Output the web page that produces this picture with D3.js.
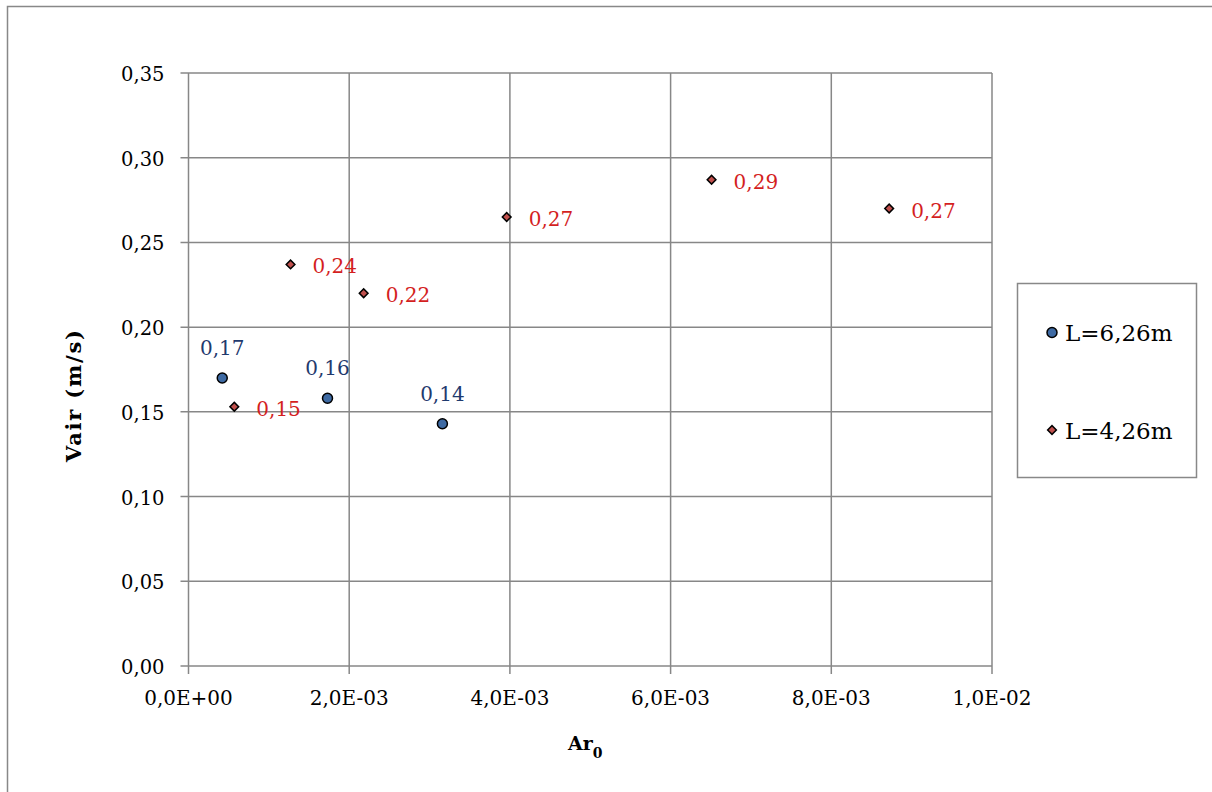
<!DOCTYPE html>
<html><head><meta charset="utf-8">
<script src="https://cdn.jsdelivr.net/npm/d3@7"></script>
<style>body{margin:0;background:#fff}svg{display:block}</style>
</head><body><svg id="c" width="1212" height="792"></svg>
<script>
const xTicks = [0, 0.002, 0.004, 0.006, 0.008, 0.010];
const xTickLabels = ["0,0E+00","2,0E-03","4,0E-03","6,0E-03","8,0E-03","1,0E-02"];
const yTicks = [0, 0.05, 0.10, 0.15, 0.20, 0.25, 0.30, 0.35];
const yTickLabels = ["0,00","0,05","0,10","0,15","0,20","0,25","0,30","0,35"];
const seriesNames = ["L=6,26m","L=4,26m"];
const s1x = [0.00042, 0.00173, 0.00316];
const s1y = [0.170, 0.158, 0.143];
const s1labels = ["0,17","0,16","0,14"];
const s2x = [0.00057, 0.00127, 0.00218, 0.00396, 0.00651, 0.00872];
const s2y = [0.153, 0.237, 0.220, 0.265, 0.287, 0.270];
const s2labels = ["0,15","0,24","0,22","0,27","0,29","0,27"];

const font = "'DejaVu Serif','Liberation Serif',serif";
const svg = d3.select("#c");
svg.append("rect").attr("x",7.5).attr("y",6.5).attr("width",1220).attr("height",800)
  .attr("fill","#fff").attr("stroke","#888").attr("stroke-width",1.5);

const x = d3.scaleLinear().domain([0,0.01]).range([188.5,992]);
const y = d3.scaleLinear().domain([0,0.35]).range([666,73]);
const grid = "#878787";

const g = svg.append("g");
g.selectAll(".vg").data(xTicks).join("line")
  .attr("x1",d=>x(d)).attr("x2",d=>x(d)).attr("y1",y(0.35)).attr("y2",y(0)+8)
  .attr("stroke",grid).attr("stroke-width",1.5);
g.selectAll(".hg").data(yTicks).join("line")
  .attr("x1",x(0)-8).attr("x2",x(0.01)).attr("y1",d=>y(d)).attr("y2",d=>y(d))
  .attr("stroke",grid).attr("stroke-width",1.5);

g.selectAll(".xl").data(xTicks).join("text")
  .attr("x",d=>x(d)).attr("y",y(0)+39).attr("text-anchor","middle")
  .attr("font-family",font).attr("font-size",20).attr("fill","#000")
  .text((d,i)=>xTickLabels[i]);
g.selectAll(".yl").data(yTicks).join("text")
  .attr("x",x(0)-24).attr("y",d=>y(d)+8).attr("text-anchor","end")
  .attr("font-family",font).attr("font-size",19.5).attr("fill","#000")
  .text((d,i)=>yTickLabels[i]);

svg.append("text").attr("transform","translate(81,396) rotate(-90)")
  .attr("text-anchor","middle").attr("font-family",font).attr("font-size",21)
  .attr("font-weight","bold").attr("textLength",132).attr("lengthAdjust","spacing")
  .text("Vair (m/s)");
const xt = svg.append("text").attr("x",568).attr("y",750).attr("text-anchor","start")
  .attr("font-family",font).attr("font-size",19).attr("font-weight","bold");
xt.append("tspan").text("Ar");
xt.append("tspan").attr("font-size",14).attr("dy",8).text("0");

const blue="#3e6aa3", red="#c0504d", blueT="#1f3a6e", redT="#d41f1f";
const d1 = s1x.map((v,i)=>({x:v,y:s1y[i],l:s1labels[i]}));
const d2 = s2x.map((v,i)=>({x:v,y:s2y[i],l:s2labels[i]}));

g.selectAll(".p1").data(d1).join("circle")
  .attr("cx",d=>x(d.x)).attr("cy",d=>y(d.y)).attr("r",5)
  .attr("fill",blue).attr("stroke","#000").attr("stroke-width",1.5);
g.selectAll(".t1").data(d1).join("text")
  .attr("x",d=>x(d.x)).attr("y",d=>y(d.y)-23).attr("text-anchor","middle")
  .attr("font-family",font).attr("font-size",20).attr("fill",blueT).text(d=>d.l);

const diamond = d3.symbol().type(d3.symbolSquare).size(38);
g.selectAll(".p2").data(d2).join("path")
  .attr("d",diamond)
  .attr("transform",d=>`translate(${x(d.x)},${y(d.y)}) rotate(45)`)
  .attr("fill",red).attr("stroke","#000").attr("stroke-width",1.5);
g.selectAll(".t2").data(d2).join("text")
  .attr("x",d=>x(d.x)+22).attr("y",d=>y(d.y)+9).attr("text-anchor","start")
  .attr("font-family",font).attr("font-size",20).attr("fill",redT).text(d=>d.l);

// legend
const lg = svg.append("g");
lg.append("rect").attr("x",1017.5).attr("y",283.5).attr("width",179).attr("height",194)
  .attr("fill","#fff").attr("stroke","#888").attr("stroke-width",1.5);
lg.append("circle").attr("cx",1052).attr("cy",332.5).attr("r",5)
  .attr("fill",blue).attr("stroke","#000").attr("stroke-width",1.5);
lg.append("path").attr("d",diamond).attr("transform","translate(1052,430) rotate(45)")
  .attr("fill",red).attr("stroke","#000").attr("stroke-width",1.5);
lg.selectAll(".lt").data(seriesNames).join("text")
  .attr("x",1065).attr("y",(d,i)=>341+i*98)
  .attr("font-family",font).attr("font-size",23).attr("fill","#000").text(d=>d);
</script></body></html>
